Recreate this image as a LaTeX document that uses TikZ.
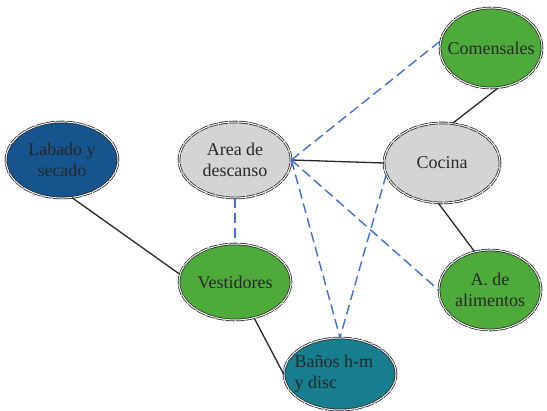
\documentclass[tikz,border=0pt]{standalone}
\usepackage{fontspec}
\setmainfont{Liberation Serif}
\usetikzlibrary{shapes.geometric}
\definecolor{ink}{RGB}{40,40,40}
\definecolor{roomgray}{RGB}{212,212,212}
\definecolor{roomgreen}{RGB}{78,170,58}
\definecolor{roomblue}{RGB}{22,84,142}
\definecolor{roomteal}{RGB}{22,126,142}
\definecolor{linkblue}{RGB}{62,112,214}
\begin{document}
\begin{tikzpicture}[x=1pt,y=1pt,
 every node/.style={font=\fontsize{18}{21}\selectfont},
 room/.style={ellipse,draw=ink,line width=.8pt,double=white,double distance=1pt,
   dash pattern=on 9pt off 1.2pt,minimum width=112pt,minimum height=76pt,
   inner sep=0pt,align=center,text=ink},
 solidlink/.style={ink,line width=1.3pt},
 dashlink/.style={linkblue,line width=1.4pt,dash pattern=on 10pt off 5pt}]
\useasboundingbox (0,0) rectangle (547,411);
\node[room,fill=roomblue] (lavado) at (62,251) {Labado y\\secado};
\node[room,fill=roomgray] (descanso) at (235,251) {Area de\\descanso};
\node[room,fill=roomgreen,minimum width=102pt,minimum height=80pt,inner xsep=-8pt] (comensales) at (491,363) {Comensales};
\node[room,fill=roomgray,minimum width=116pt,minimum height=80pt] (cocina) at (442,248) {Cocina};
\node[room,fill=roomgreen] (vestidores) at (235,129) {Vestidores};
\node[room,fill=roomgreen,minimum width=102pt,minimum height=80pt] (alimentos) at (490,121) {A. de\\alimentos};
\node[room,fill=roomteal,minimum width=112pt,minimum height=72pt] (banos) at (340,37) {};
\node[anchor=west,align=left,text=ink] (banostxt) at (291,37) {Baños h-m\\y disc};
% solid links
\draw[solidlink] (lavado.-75) -- (vestidores.172);
\draw[solidlink] (descanso.east) -- (cocina.west);
\draw[solidlink] (cocina.75) -- (comensales.-80);
\draw[solidlink] (cocina.-95) -- (alimentos.112);
\draw[solidlink] (vestidores.-62) -- (banos.west);
% dashed links
\draw[dashlink] (descanso.south) -- (vestidores.north);
\draw[dashlink] (descanso.east) -- (comensales.172);
\draw[dashlink] (descanso.east) -- (alimentos.west);
\draw[dashlink] (descanso.east) -- (banos.north);
\draw[dashlink] (cocina.192) -- (banos.north);
\end{tikzpicture}
\end{document}
